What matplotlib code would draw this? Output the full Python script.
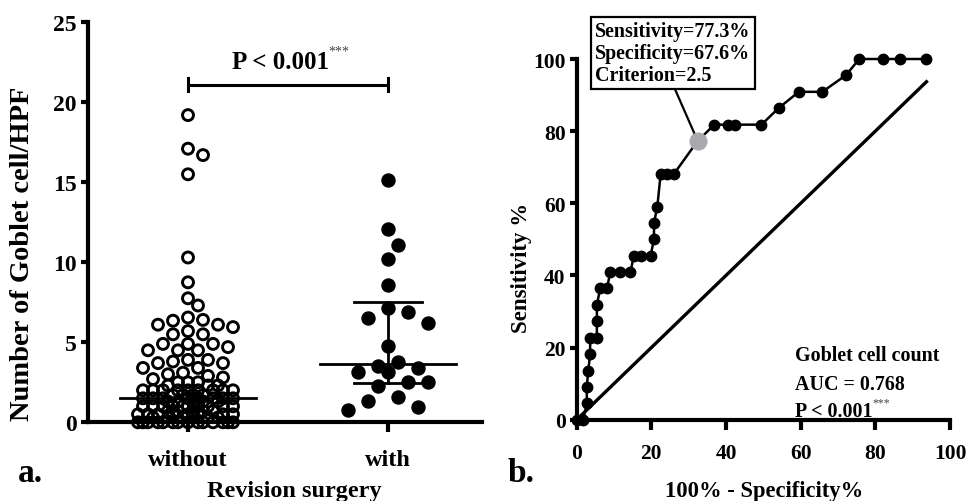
import numpy as np
import matplotlib
matplotlib.use('Agg')
import matplotlib.pyplot as plt

plt.rcParams['font.family'] = ['Liberation Serif', 'DejaVu Serif']
plt.rcParams['font.weight'] = 'bold'
plt.rcParams['axes.labelweight'] = 'bold'

# ---- data ----
groups = ['without', 'with']

# goblet cells / HPF, patients without revision surgery (n = 111)
without_high = [19.2, 17.1, 16.7, 15.5, 10.3, 8.75, 7.75, 7.3, 6.55, 6.4, 6.35,
                6.1, 6.1, 5.95, 5.7, 5.5, 5.5, 4.9, 4.9, 4.9, 4.7, 4.5, 4.5, 4.5,
                3.9, 3.9, 3.8, 3.7, 3.7, 3.4, 3.4, 3.1, 3.0, 2.9, 2.8, 2.7]
without_low_levels = [0.0, 0.3, 0.5, 0.7, 1.0, 1.3, 1.5, 1.7, 2.0, 2.3, 2.5]
without_low_counts = [14, 6, 8, 5, 10, 5, 8, 4, 9, 3, 3]

# patients with revision surgery (n = 22)
with_vals = [15.14, 12.1, 11.1, 10.2, 8.6, 7.15, 6.55, 6.9, 6.2, 4.75, 3.75,
             3.37, 3.54, 3.16, 3.16, 2.54, 2.29, 2.54, 1.35, 1.56, 0.79, 0.94]

# ROC curve points (100% - specificity, sensitivity)
roc_fpr = [0, 1.8, 2.7, 2.7, 3.1, 3.6, 3.6, 5.4, 5.4, 5.4, 6.3, 8.1, 9.0, 11.7,
           14.4, 15.3, 17.1, 19.8, 20.7, 20.7, 21.6, 22.5, 24.3, 26.1, 32.4,
           36.9, 40.5, 42.3, 49.5, 54.1, 59.5, 65.8, 72.1, 75.7, 82.0, 86.5, 93.7]
roc_tpr = [0, 0, 4.5, 9.1, 13.6, 18.2, 22.7, 22.7, 27.3, 31.8, 36.4, 36.4, 40.9,
           40.9, 40.9, 45.5, 45.5, 45.5, 50.0, 54.5, 59.1, 68.2, 68.2, 68.2, 77.3,
           81.8, 81.8, 81.8, 81.8, 86.4, 90.9, 90.9, 95.5, 100, 100, 100, 100]
cut_fpr, cut_tpr = 32.4, 77.3

without_vals = list(without_high)
for lev, cnt in zip(without_low_levels, without_low_counts):
    without_vals += [lev] * cnt
without_vals = np.array(without_vals)
with_vals = np.array(with_vals)

W, H = 969, 502
fig = plt.figure(figsize=(W / 100, H / 100), dpi=100)


def px_box(x0, y0, x1, y1):
    return [x0 / W, 1 - y1 / H, (x1 - x0) / W, (y1 - y0) / H]


# ---------------- panel a ----------------
ax1 = fig.add_axes(px_box(88, 23.3, 482, 423.3))
ax1.set_xlim(-0.5, 1.47)
ax1.set_ylim(0, 25)
xpix = 394 / 1.97
ypix = 400 / 25


def swarm(vals, diam, step, max_off, dense_below=None, dense_diam=None):
    # simple beeswarm in pixel space, capped width; crowded low values packed tighter
    cands = [0.0]
    k = 1
    while k * step <= max_off:
        cands += [k * step, -k * step]
        k += 1
    offs = np.zeros(len(vals))
    placed = []
    for i in np.argsort(-vals, kind='stable'):
        y = vals[i] * ypix
        dd = diam
        if dense_below is not None and vals[i] <= dense_below:
            dd = dense_diam
        best, best_d = 0.0, -1
        for c in cands:
            d = min((np.hypot(c - px, y - py) for px, py in placed), default=np.inf)
            if d >= dd:
                best = c
                break
            if d > best_d:
                best, best_d = c, d
        offs[i] = best
        placed.append((best, y))
    return offs / xpix


off0 = swarm(without_vals, 12, 5, 52, dense_below=2.6, dense_diam=6)
off1 = swarm(with_vals, 17, 10, 40)

ax1.scatter(0 + off0, without_vals, s=62, facecolors='none', edgecolors='black',
            linewidths=2.1, clip_on=False, zorder=3)
ax1.scatter(1 + off1, with_vals, s=88, color='black', clip_on=False, zorder=3)

med0 = np.median(without_vals)
ax1.plot([-0.34, 0.34], [med0, med0], color='black', lw=2, zorder=4)
q1, med1, q3 = np.percentile(with_vals, [25, 50, 75], method='weibull')
ax1.plot([1 - 0.34, 1 + 0.34], [med1, med1], color='black', lw=2, zorder=4)
ax1.plot([1 - 0.17, 1 + 0.17], [q1, q1], color='black', lw=2, zorder=4)
ax1.plot([1 - 0.17, 1 + 0.17], [q3, q3], color='black', lw=2, zorder=4)
ax1.plot([1, 1], [q1, q3], color='black', lw=2, zorder=4)

# significance bracket
ax1.plot([0, 1], [21.1, 21.1], color='black', lw=2.2, clip_on=False)
ax1.plot([0, 0], [20.7, 21.5], color='black', lw=2.2, clip_on=False)
ax1.plot([1, 1], [20.7, 21.5], color='black', lw=2.2, clip_on=False)
t1 = ax1.text(0.46, 22.15, 'P < 0.001', ha='center', va='baseline', fontsize=18)
ax1.annotate('***', xy=(1.0, 0.95), xycoords=t1, ha='left', va='center',
             fontsize=10, fontweight='normal', color='#444444')

ax1.set_xticks([0, 1])
ax1.set_xticklabels(groups)
ax1.set_yticks([0, 5, 10, 15, 20, 25])
for s in ['top', 'right']:
    ax1.spines[s].set_visible(False)
for s in ['left', 'bottom']:
    ax1.spines[s].set_linewidth(3)
ax1.tick_params(axis='y', length=5, width=3, pad=3, labelsize=17)
ax1.tick_params(axis='x', length=7, width=3, pad=12, labelsize=17.5)

fig.text(23 / W, 1 - 254 / H, 'Number of Goblet cell/HPF', rotation=90,
         ha='center', va='center', fontsize=20.5)
fig.text(294 / W, 1 - 496.7 / H, 'Revision surgery', ha='center', va='baseline',
         fontsize=17.5)
fig.text(18 / W, 1 - 481.7 / H, 'a.', ha='left', va='baseline', fontsize=24)

# ---------------- panel b ----------------
ax2 = fig.add_axes(px_box(576.7, 60, 950, 420.7))
ax2.set_xlim(0, 100)
ax2.set_ylim(0, 100)

ax2.plot([0, max(roc_fpr)], [0, max(roc_fpr)], color='black', lw=2.4, zorder=2)
ax2.plot(roc_fpr, roc_tpr, '-o', color='black', lw=1.8, ms=7.5, clip_on=False, zorder=3)
ax2.plot([cut_fpr], [cut_tpr], 'o', color='#a9a9b0', ms=12, clip_on=False, zorder=5)

ax2.annotate('Sensitivity=77.3%\nSpecificity=67.6%\nCriterion=2.5',
             xy=(cut_fpr, cut_tpr), xytext=(25.8, 101.7), textcoords='data',
             ha='center', va='center', multialignment='left', fontsize=14.4,
             linespacing=1.12, annotation_clip=False, zorder=4,
             bbox=dict(boxstyle='square,pad=0.2', fc='white', ec='black', lw=1.6),
             arrowprops=dict(arrowstyle='-', color='black', lw=1.6, relpos=(0.5, 0),
                             shrinkA=0, shrinkB=0))

ax2.text(58.5, 16.5, 'Goblet cell count', ha='left', va='baseline', fontsize=14.4)
ax2.text(58.5, 8.4, 'AUC = 0.768', ha='left', va='baseline', fontsize=14.4)
t2 = ax2.text(58.5, 1.0, 'P < 0.001', ha='left', va='baseline', fontsize=14.4)
ax2.annotate('***', xy=(1.0, 0.95), xycoords=t2, ha='left', va='center',
             fontsize=8.5, fontweight='normal', color='#444444')

ax2.set_xticks(range(0, 101, 20))
ax2.set_yticks(range(0, 101, 20))
for s in ['top', 'right']:
    ax2.spines[s].set_visible(False)
for s in ['left', 'bottom']:
    ax2.spines[s].set_linewidth(3)
ax2.tick_params(axis='y', length=5, width=3, pad=3, labelsize=15.5)
ax2.tick_params(axis='x', length=7, width=3, pad=10, labelsize=15.5)

fig.text(522 / W, 1 - 268 / H, 'Sensitivity %', rotation=90, ha='center',
         va='center', fontsize=16.5)
fig.text(764 / W, 1 - 496.7 / H, '100% - Specificity%', ha='center',
         va='baseline', fontsize=16.3)
fig.text(508 / W, 1 - 481.7 / H, 'b.', ha='left', va='baseline', fontsize=24)

fig.savefig('out.png', dpi=100)
